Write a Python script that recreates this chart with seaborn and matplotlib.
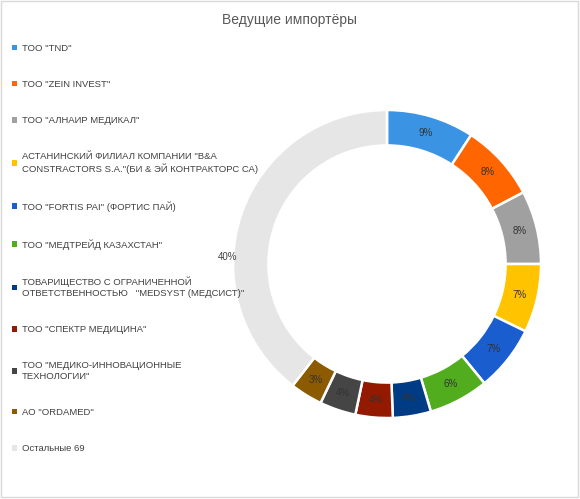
import matplotlib
matplotlib.use("Agg")
import matplotlib.pyplot as plt
from matplotlib.patches import Patch, Rectangle
import numpy as np
import seaborn as sns

companies = [
    'ТОО "TND"',
    'ТОО "ZEIN INVEST"',
    'ТОО "АЛНАИР МЕДИКАЛ"',
    'АСТАНИНСКИЙ ФИЛИАЛ КОМПАНИИ "B&A\nCONSTRACTORS S.A."(БИ & ЭЙ КОНТРАКТОРС СА)',
    'ТОО "FORTIS PAI" (ФОРТИС ПАЙ)',
    'ТОО "МЕДТРЕЙД КАЗАХСТАН"',
    'ТОВАРИЩЕСТВО С ОГРАНИЧЕННОЙ\nОТВЕТСТВЕННОСТЬЮ   "MEDSYST (МЕДСИСТ)"',
    'ТОО "СПЕКТР МЕДИЦИНА"',
    'ТОО "МЕДИКО-ИННОВАЦИОННЫЕ\nТЕХНОЛОГИИ"',
    'АО "ORDAMED"',
    'Остальные 69',
]
shares = [9.2, 8.1, 7.7, 7.2, 6.9, 6.3, 4.0, 3.9, 3.8, 3.4, 39.5]
pct_labels = ['9%', '8%', '8%', '7%', '7%', '6%', '4%', '4%', '4%', '3%', '40%']
colors = ['#3A93E3', '#FF6500', '#A0A0A0', '#FFC300', '#195DCF', '#52AD1E',
          '#003B85', '#931A00', '#454545', '#8C5A00', '#E6E6E6']

sns.set_theme(style="white")
plt.rcParams['font.family'] = ['Liberation Sans', 'DejaVu Sans']
palette = sns.color_palette(colors)

fig = plt.figure(figsize=(5.8, 4.99), dpi=100)
fig.patches.append(Rectangle((0.001, 0.004), 0.996, 0.993, transform=fig.transFigure,
                             fill=False, edgecolor='#D9D9D9', linewidth=1))

# donut centre ~ (387, 264) px, outer radius ~154 px
ax = fig.add_axes([233 / 580, (499 - 264 - 154) / 499, 308 / 580, 308 / 499])
wedges, _ = ax.pie(shares, colors=palette, startangle=90, counterclock=False,
                   radius=1, wedgeprops=dict(width=0.23, edgecolor='white', linewidth=1.8))
ax.set_xlim(-1, 1)
ax.set_ylim(-1, 1)
ax.axis('off')

for w, lab in zip(wedges[:-1], pct_labels[:-1]):
    ang = np.deg2rad((w.theta1 + w.theta2) / 2)
    ax.text(0.885 * np.cos(ang), 0.885 * np.sin(ang), lab, ha='center', va='center',
            fontsize=7, color='#333333')
# the big "others" slice has its label just outside the ring on the left
ax.text(-1.035, 0.045, pct_labels[-1], ha='center', va='center', fontsize=7,
        color='#404040', clip_on=False)

handles = [Patch(facecolor=c, edgecolor='none') for c in palette]
leg = fig.legend(handles, companies, loc='upper left', bbox_to_anchor=(8 / 580, 1 - 40 / 499),
                 frameon=False, fontsize=6.8, handlelength=0.55, handleheight=0.55,
                 handletextpad=0.5, labelspacing=2.88, borderaxespad=0)
for t in leg.get_texts():
    t.set_color('#404040')

fig.text(290 / 580, 1 - 20 / 499, 'Ведущие импортёры', ha='center', va='center',
         fontsize=10, color='#595959')

fig.savefig('out.png', dpi=100)
